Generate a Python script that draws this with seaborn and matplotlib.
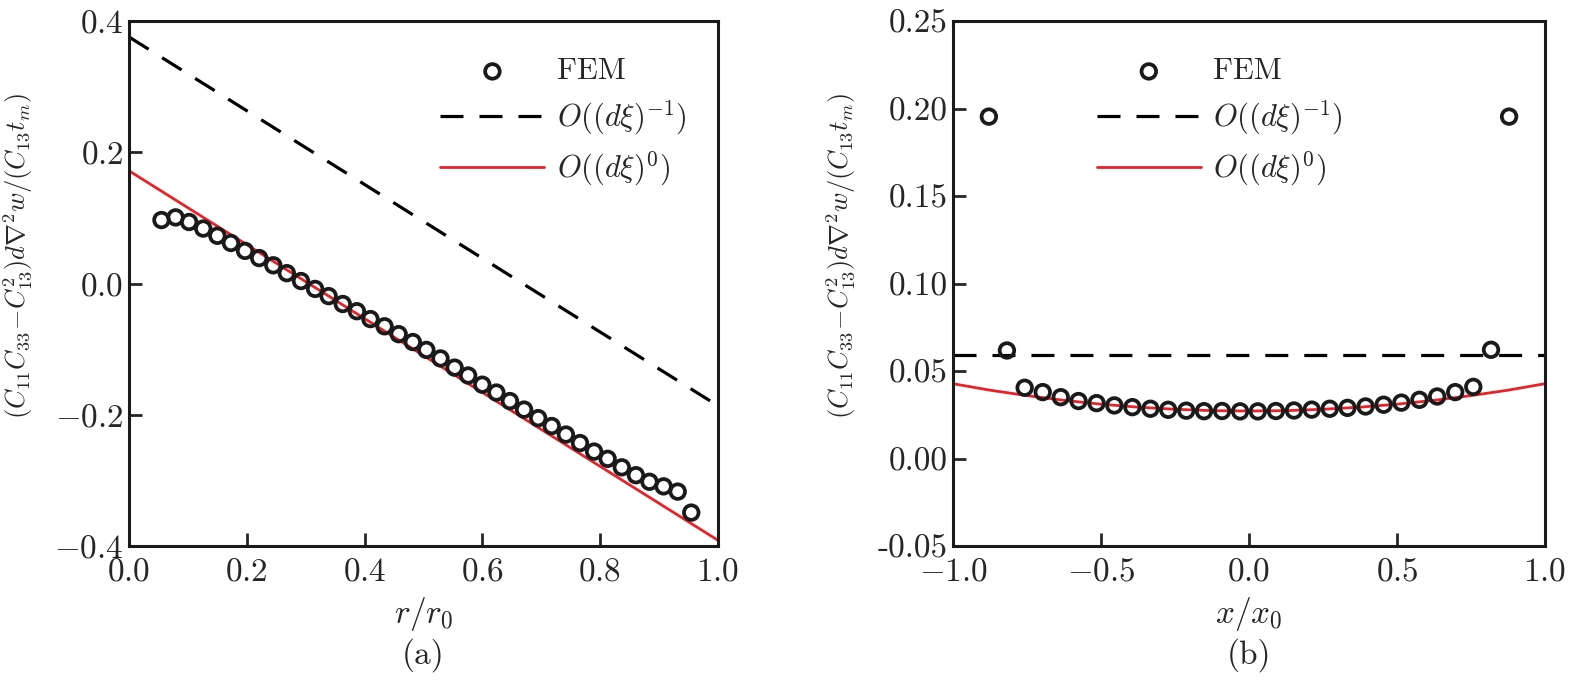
import matplotlib
matplotlib.use("Agg")
import matplotlib.pyplot as plt
import seaborn as sns
import numpy as np

# panel (a): radial profile
r_fem = [0.055, 0.079, 0.102, 0.126, 0.150, 0.173, 0.197, 0.221, 0.245, 0.268,
         0.292, 0.316, 0.339, 0.363, 0.387, 0.410, 0.434, 0.458, 0.482, 0.505,
         0.529, 0.553, 0.576, 0.600, 0.624, 0.647, 0.671, 0.695, 0.718, 0.742,
         0.766, 0.790, 0.813, 0.837, 0.861, 0.884, 0.908, 0.932, 0.955]
a_fem = [0.097, 0.101, 0.094, 0.084, 0.073, 0.062, 0.050, 0.039, 0.028, 0.016,
         0.004, -0.008, -0.019, -0.031, -0.042, -0.054, -0.065, -0.077, -0.089, -0.101,
         -0.114, -0.128, -0.140, -0.154, -0.166, -0.179, -0.192, -0.205, -0.217, -0.230,
         -0.243, -0.256, -0.267, -0.280, -0.292, -0.302, -0.309, -0.317, -0.349]
r_line = [0.0, 1.0]
a_order_m1 = [0.376, -0.186]
a_order_0 = [0.172, -0.391]

# panel (b): profile along x
x_fem = [-0.879, -0.818, -0.758, -0.697, -0.636, -0.576, -0.515, -0.455, -0.394, -0.333,
         -0.273, -0.212, -0.152, -0.091, -0.030, 0.030, 0.091, 0.152, 0.212, 0.273,
         0.333, 0.394, 0.455, 0.515, 0.576, 0.636, 0.697, 0.758, 0.818, 0.879]
b_fem = [0.1955, 0.0618, 0.0405, 0.0380, 0.0351, 0.0329, 0.0317, 0.0304, 0.0294, 0.0285,
         0.0279, 0.0274, 0.0271, 0.0272, 0.0270, 0.0270, 0.0272, 0.0275, 0.0280, 0.0285,
         0.0290, 0.0298, 0.0308, 0.0320, 0.0336, 0.0355, 0.0380, 0.0410, 0.0622, 0.1955]
x_m1 = [-1.0, 1.0]
b_order_m1 = [0.0594, 0.0594]
x_0 = [-1.0, -0.875, -0.75, -0.625, -0.5, -0.375, -0.25, -0.125, 0.0,
       0.125, 0.25, 0.375, 0.5, 0.625, 0.75, 0.875, 1.0]
b_order_0 = [0.0428, 0.0391, 0.0360, 0.0333, 0.0311, 0.0294, 0.0282, 0.0274, 0.0272,
             0.0274, 0.0282, 0.0294, 0.0311, 0.0333, 0.0360, 0.0391, 0.0428]

sns.set_style("ticks")
plt.rcParams["font.family"] = "serif"
plt.rcParams["font.serif"] = ["cmr10"]
plt.rcParams["mathtext.fontset"] = "cm"
plt.rcParams["axes.formatter.use_mathtext"] = True
plt.rcParams["font.size"] = 24

ylab = r"$(C_{11}C_{33}\!-\!C_{13}^2)d\nabla^2 w/(C_{13}t_m)$"
lbl_fem = "FEM"
lbl_m1 = r"$O((d\xi)^{-1})$"
lbl_0 = r"$O((d\xi)^{0})$"

fig = plt.figure(figsize=(15.74, 6.86), dpi=100)
ax1 = fig.add_axes([0.082, 0.204, 0.374, 0.765])
ax2 = fig.add_axes([0.6055, 0.204, 0.376, 0.765])

dash = (0, (7.2, 5.0))

def draw(ax, xf, yf, xl1, yl1, xl0, yl0):
    sns.lineplot(x=xl1, y=yl1, ax=ax, color="black", lw=2.3, linestyle=dash,
                 label=lbl_m1, sort=False)
    sns.lineplot(x=xl0, y=yl0, ax=ax, color="#e8222a", lw=2.0, label=lbl_0, sort=False)
    sns.scatterplot(x=xf, y=yf, ax=ax, marker="o", s=110, facecolor="none",
                    edgecolor="#1a1a1a", linewidth=2.7, label=lbl_fem, zorder=3)
    for s in ax.spines.values():
        s.set_linewidth(2.2)
        s.set_color("#1a1a1a")
    ax.tick_params(direction="in", length=9.5, width=2, labelsize=24,
                   top=False, right=False)
    ax.tick_params(axis="x", pad=8)
    ax.tick_params(axis="y", pad=4)

draw(ax1, r_fem, a_fem, r_line, a_order_m1, r_line, a_order_0)
draw(ax2, x_fem, b_fem, x_m1, b_order_m1, x_0, b_order_0)

ax1.set_xlim(0, 1)
ax1.set_ylim(-0.4, 0.4)
ax1.set_xticks(np.arange(0, 1.01, 0.2))
ax1.set_yticks(np.arange(-0.4, 0.41, 0.2))
ax1.set_xlabel(r"$r/r_0$", fontsize=24, labelpad=6)
ax1.set_ylabel(ylab, fontsize=19)

ax2.set_xlim(-1, 1)
ax2.set_ylim(-0.05, 0.25)
ax2.set_xticks(np.arange(-1, 1.01, 0.5))
ax2.set_yticks(np.arange(-0.05, 0.251, 0.05))
ax2.yaxis.set_major_formatter(matplotlib.ticker.FormatStrFormatter("%.2f"))
ax2.set_xlabel(r"$x/x_0$", fontsize=24, labelpad=6)
ax2.set_ylabel(ylab, fontsize=19)

for ax, pos, tag in [(ax1, 0.529, "(a)"), (ax2, 0.243, "(b)")]:
    ax.yaxis.set_label_coords(-0.16, 0.552)
    h, l = ax.get_legend_handles_labels()
    order = [l.index(lbl_fem), l.index(lbl_m1), l.index(lbl_0)]
    ax.legend([h[i] for i in order], [l[i] for i in order], loc="upper left",
              bbox_to_anchor=(pos, 0.93), frameon=False, borderpad=0, borderaxespad=0,
              handlelength=3.4, handletextpad=0.4, labelspacing=0.42, fontsize=22,
              scatterpoints=1)
    ax.text(0.5, -0.208, tag, transform=ax.transAxes, ha="center", va="center", fontsize=24)

fig.savefig("out.png", dpi=100)
plt.close()
